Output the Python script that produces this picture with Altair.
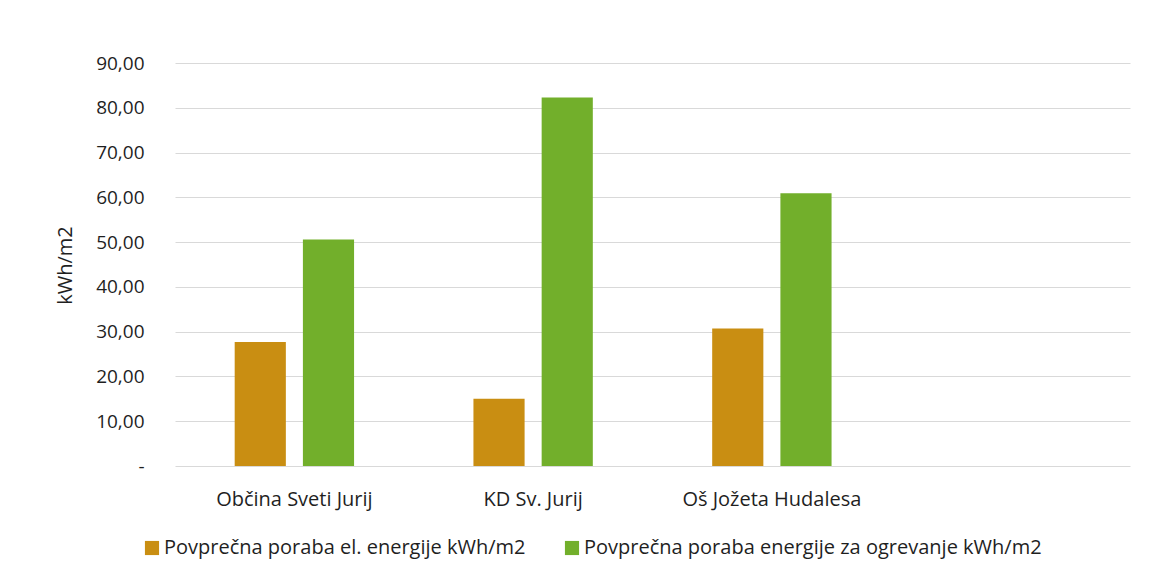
import altair as alt
import pandas as pd

categories = ["Občina Sveti Jurij", "KD Sv. Jurij", "Oš Jožeta Hudalesa"]
series = ["Povprečna poraba el. energije kWh/m2", "Povprečna poraba energije za ogrevanje kWh/m2"]
elec = [27.7, 15.0, 30.7]
heat = [50.6, 82.3, 60.9]
y_ticks = [0, 10, 20, 30, 40, 50, 60, 70, 80, 90]
colors = ["#C98E12", "#72AF2B"]

rows = []
for c, e, h in zip(categories, elec, heat):
    rows.append({"cat": c, "series": series[0], "value": e})
    rows.append({"cat": c, "series": series[1], "value": h})
df = pd.DataFrame(rows)

FONT = "Open Sans"
TXT = "#1f1f1f"

chart = alt.Chart(df).mark_bar().encode(
    x=alt.X("cat:N",
            scale=alt.Scale(domain=categories + [" "], paddingInner=0.5, paddingOuter=0.25),
            axis=alt.Axis(title=None, labelAngle=0, domain=False, ticks=False, labelPadding=23,
                          labelFontSize=20, labelColor=TXT, labelFont=FONT)),
    xOffset=alt.XOffset("series:N", scale=alt.Scale(domain=series, paddingInner=0.25)),
    y=alt.Y("value:Q",
            scale=alt.Scale(domain=[0, 90]),
            axis=alt.Axis(values=y_ticks, title="kWh/m2", domain=False, ticks=False,
                          labelPadding=31, labelFontSize=19, labelColor=TXT, labelFont=FONT,
                          labelExpr="datum.value == 0 ? '-' : replace(format(datum.value, '.2f'), '.', ',')",
                          gridColor="#D9D9D9", gridWidth=1,
                          titleFont=FONT, titleFontSize=20, titleFontWeight="normal", titleColor=TXT,
                          titleAngle=-90, titleX=-110, titleY=202, titleAlign="center", titleBaseline="middle")),
    color=alt.Color("series:N", scale=alt.Scale(domain=series, range=colors),
                    legend=alt.Legend(title=None, orient="none", legendX=-33, legendY=475,
                                      direction="horizontal", symbolType="square", symbolSize=200,
                                      symbolStrokeWidth=0, labelFont=FONT, labelFontSize=20,
                                      labelColor=TXT, labelOffset=2, columnPadding=36,
                                      labelLimit=700)),
).properties(
    width=955, height=403,
    autosize=alt.AutoSizeParams(type="none"),
    padding={"left": 167, "top": 55, "right": 12, "bottom": 95},
    background="white",
).configure_view(strokeWidth=0)

chart.save("out.html", embed_options={"renderer": "svg", "actions": False})
